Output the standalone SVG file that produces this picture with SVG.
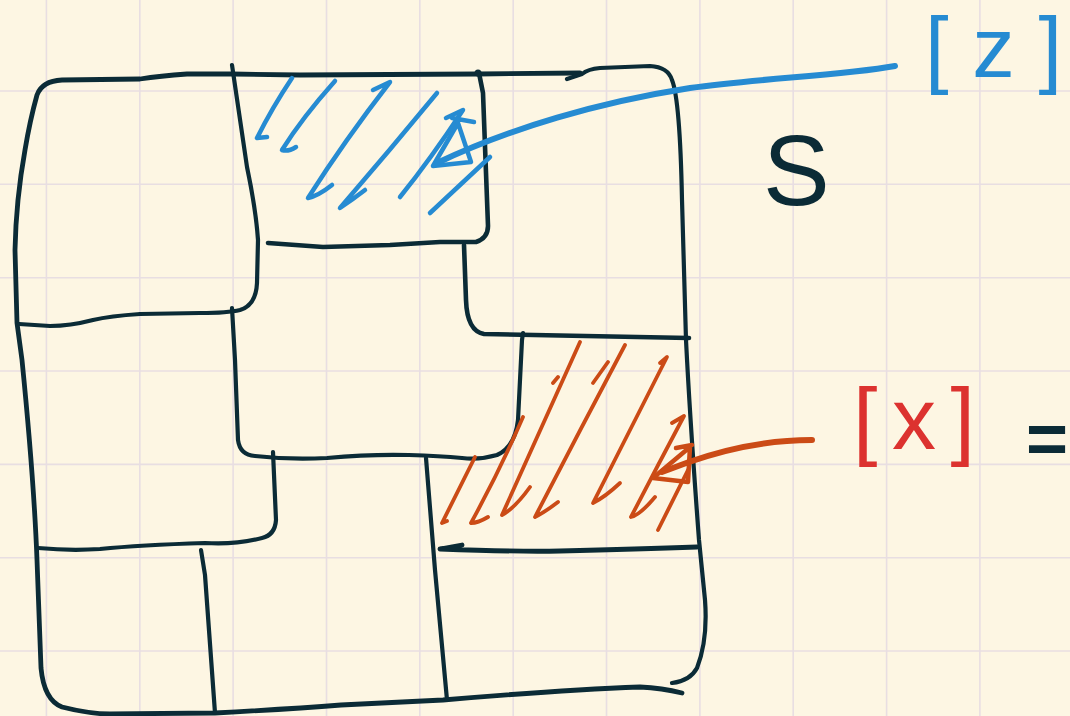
<svg xmlns="http://www.w3.org/2000/svg" width="1070" height="716" viewBox="0 0 1070 716">
<style>
.grid line{stroke:#e8dee2;stroke-width:1.6}
.ink{fill:none;stroke:#0b2b36;stroke-width:4.2;stroke-linecap:round;stroke-linejoin:round}
.blue{fill:none;stroke:#268bd2;stroke-width:4.5;stroke-linecap:round;stroke-linejoin:round}
.orange{fill:none;stroke:#cb4b16;stroke-width:3.8;stroke-linecap:round;stroke-linejoin:round}
.lbl{font-family:"Liberation Sans",Arial,sans-serif}
</style>
<rect width="1070" height="716" fill="#fdf6e3"/>
<g class="grid" id="grid">
<line x1="46.4" y1="0" x2="46.4" y2="716"/><line x1="139.8" y1="0" x2="139.8" y2="716"/><line x1="233.1" y1="0" x2="233.1" y2="716"/><line x1="326.5" y1="0" x2="326.5" y2="716"/><line x1="419.8" y1="0" x2="419.8" y2="716"/><line x1="513.2" y1="0" x2="513.2" y2="716"/><line x1="606.5" y1="0" x2="606.5" y2="716"/><line x1="699.9" y1="0" x2="699.9" y2="716"/><line x1="793.2" y1="0" x2="793.2" y2="716"/><line x1="886.6" y1="0" x2="886.6" y2="716"/><line x1="979.9" y1="0" x2="979.9" y2="716"/>
<line x1="0" y1="91" x2="1070" y2="91"/><line x1="0" y1="184.3" x2="1070" y2="184.3"/><line x1="0" y1="277.7" x2="1070" y2="277.7"/><line x1="0" y1="371" x2="1070" y2="371"/><line x1="0" y1="464.4" x2="1070" y2="464.4"/><line x1="0" y1="557.7" x2="1070" y2="557.7"/><line x1="0" y1="651" x2="1070" y2="651"/>
</g>
<g id="outline">
<path class="ink" d="M 580,73 L 478,74 L 300,75 L 232,74 Q 200,74 187,74 Q 160,76 140,79 L 62,80 Q 42,81 37,95 Q 30,120 25,150 Q 16,200 15,250 L 17,323 L 22,360 Q 34,480 37,560 L 41,668 Q 44,700 62,707 Q 90,714 110,714 L 215,713 Q 290,709 341,705 L 443,700 Q 560,690 640,687 Q 662,688 682,693" style="stroke-width:4.8"/>
<path class="ink" d="M 672,683 Q 690,681 697,668 Q 708,640 705,600 L 699,540 Q 690,420 686,340 L 682,200 Q 680,100 672,80 Q 668,67 650,66 L 600,68 Q 588,69 582,74 L 567,79"/>
</g>
<g id="cells">
<path class="ink" d="M 232,65 Q 240,120 247,167 Q 256,210 258,240 L 257,283 Q 256,305 240,310 Q 228,313 200,313 L 140,314 Q 110,316 93,320 Q 70,326 50,326 L 19,324"/>
<path class="ink" d="M 232,308 L 235,360 L 238,440 Q 240,455 255,456 Q 290,460 327,458 Q 370,454 409,455 Q 440,456 462,458 Q 480,460 497,455 Q 515,447 518,420 L 522,340 L 523,333"/>
<path class="ink" d="M 268,243 L 323,247 Q 360,246 390,245 L 440,242 L 476,242 Q 488,238 488,226 L 483,93 L 479,73" style="stroke-width:4.6"/>
<circle cx="478" cy="73" r="3.5" fill="#0b2b36"/>
<path class="ink" d="M 464,245 L 466,300 Q 467,331 484,334 L 689,338" style="stroke-width:4.6"/>
<path class="ink" d="M 440,549 L 462,545 M 440,549 Q 520,552 560,551 Q 640,549 697,547" style="stroke-width:4.8"/>
<path class="ink" d="M 426,458 L 435,570 L 447,700"/>
<path class="ink" d="M 273,452 L 276,520 Q 275,535 262,538 Q 235,545 205,543 Q 140,545 100,549 Q 70,551 38,548"/>
<path class="ink" d="M 201,550 L 205,575 L 215,713"/>
</g>
<g id="hatch-z">
<path class="blue" d="M 292,78 Q 272,108 257,138 L 267,137"/>
<path class="blue" d="M 335,81 Q 302,118 282,150 Q 288,152 296,147"/>
<path class="blue" d="M 373,90 L 390,82 Q 345,140 308,198 Q 318,196 332,185"/>
<path class="blue" d="M 437,93 Q 390,150 340,208 Q 352,200 365,190"/>
<path class="blue" d="M 446,118 L 463,110 Q 430,160 400,197"/>
<path class="blue" d="M 490,157 Q 460,185 430,213"/>
<path class="blue" d="M 433,166 L 458,123 L 471,162 Z M 452,118 L 474,122"/>
</g>
<g id="hatch-x">
<path class="orange" d="M 475,457 L 442,523 L 447,521"/>
<path class="orange" d="M 523,417 Q 500,470 471,523 Q 478,523 488,517"/>
<path class="orange" d="M 553,383 L 558,377 M 580,342 Q 540,430 502,515 Q 515,508 530,487"/>
<path class="orange" d="M 593,383 L 608,362 M 625,345 Q 580,430 535,517 Q 545,512 558,502"/>
<path class="orange" d="M 660,363 L 667,357 Q 630,430 593,503 Q 605,497 620,483"/>
<path class="orange" d="M 672,423 L 684,416 Q 658,465 631,517 Q 640,515 655,497 M 658,530 L 688,470"/>
<path class="orange" d="M 676,448 L 692,445 M 690,447 L 653,478 L 688,482 L 690,447" style="stroke-width:4.5"/>
</g>
<g id="connectors">
<path class="blue" d="M 895,66 C 840,76 760,78 690,88 C 600,102 510,128 437,163" style="stroke-width:6"/>
<path class="orange" d="M 812,440 C 780,440 740,444 689,462 L 662,472" style="stroke-width:6"/>
</g>
<g id="labels">
<text class="lbl" x="925" y="77" font-size="85" fill="#268bd2" textLength="137" lengthAdjust="spacing">[z]</text>
<text class="lbl" x="763" y="205" font-size="100" fill="#0b2b36">S</text>
<text class="lbl" x="853" y="449" font-size="88" fill="#dc322f" textLength="122" lengthAdjust="spacing">[x]</text>
<text class="lbl" x="1026" y="463" font-size="72" font-weight="bold" fill="#0b2b36">=</text>
</g>
</svg>
